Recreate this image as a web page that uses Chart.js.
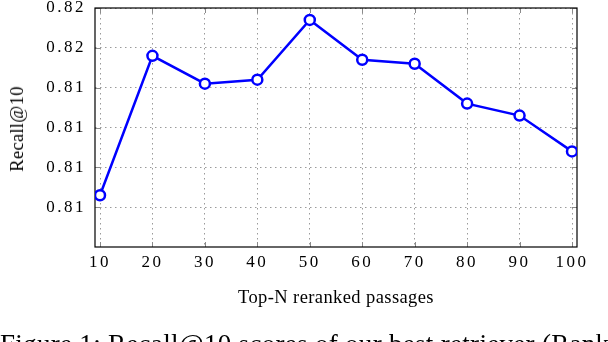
<!DOCTYPE html>
<html>
<head>
<meta charset="utf-8">
<script src="https://cdn.jsdelivr.net/npm/chart.js@4"></script>
<style>
  html, body { margin: 0; padding: 0; background: #fff; overflow: hidden; }
  #wrap { position: relative; width: 608px; height: 342px; overflow: hidden; }
  #wrap canvas { position: absolute; left: 0; top: 0; }
  .txt { position: absolute; font-family: 'Liberation Serif', serif; color: #000; white-space: nowrap; }
  #xtitle { left: 95px; width: 482px; top: 288px; text-align: center; font-size: 18.5px; line-height: 18px; letter-spacing: 0.4px; }
  #ytitle { left: 17px; top: 129px; font-size: 18.5px; line-height: 18px; letter-spacing: 0.3px; transform: translate(-50%, -50%) rotate(-90deg); }
  #caption { left: 0px; top: 331px; font-size: 27px; line-height: 27px; letter-spacing: 0.3px; }
</style>
</head>
<body>
<div id="wrap">
  <canvas id="c" width="608" height="342"></canvas>
  <div class="txt" id="xtitle">Top-N reranked passages</div>
  <div class="txt" id="ytitle">Recall@10</div>
  <div class="txt" id="caption">Figure 1: Recall@10 scores of our best retriever (Rank</div>
</div>
<script>
// ---- data ----
const topN = [10, 20, 30, 40, 50, 60, 70, 80, 90, 100];
const recall = [0.8113, 0.8148, 0.8141, 0.8142, 0.8157, 0.8147, 0.8146, 0.8136, 0.8133, 0.8124];
const xTicks = [10, 20, 30, 40, 50, 60, 70, 80, 90, 100];
const yTicks = [0.811, 0.812, 0.813, 0.814, 0.815, 0.816];
const yTickLabels = ['0.81', '0.81', '0.81', '0.81', '0.82', '0.82'];

const framePlugin = {
  id: 'frame',
  beforeDraw(chart) {
    chart.ctx.letterSpacing = '2.5px';
  },
  beforeDatasetsDraw(chart) {
    const { ctx, chartArea: a, scales } = chart;
    ctx.save();
    ctx.letterSpacing = '0px';
    ctx.strokeStyle = '#8a8a8a';
    ctx.lineWidth = 1;
    ctx.beginPath();
    xTicks.forEach(v => {
      const x = Math.round(scales.x.getPixelForValue(v)) + 0.5;
      ctx.moveTo(x, a.bottom); ctx.lineTo(x, a.bottom - 5);
      ctx.moveTo(x, a.top); ctx.lineTo(x, a.top + 5);
    });
    yTicks.forEach(v => {
      const y = Math.round(scales.y.getPixelForValue(v)) + 0.5;
      ctx.moveTo(a.left, y); ctx.lineTo(a.left + 5, y);
      ctx.moveTo(a.right, y); ctx.lineTo(a.right - 5, y);
    });
    ctx.stroke();
    ctx.strokeStyle = '#000';
    ctx.lineWidth = 1.2;
    ctx.strokeRect(a.left, a.top, a.right - a.left, a.bottom - a.top);
    ctx.restore();
  }
};

new Chart(document.getElementById('c'), {
  type: 'line',
  data: {
    datasets: [{
      data: topN.map((x, i) => ({ x: x, y: recall[i] })),
      borderColor: '#0000ff',
      borderWidth: 2.5,
      backgroundColor: '#ffffff',
      pointBackgroundColor: '#ffffff',
      pointBorderColor: '#0000ff',
      pointBorderWidth: 2.5,
      pointRadius: 5,
      tension: 0,
      fill: false
    }]
  },
  options: {
    responsive: false,
    animation: false,
    events: [],
    layout: { padding: { left: 0, top: 8, right: 31, bottom: 0 } },
    plugins: { legend: { display: false }, tooltip: { enabled: false } },
    scales: {
      x: {
        type: 'linear',
        min: 9.0466,
        max: 100.953,
        afterBuildTicks: s => { s.ticks = xTicks.map(v => ({ value: v })); },
        afterFit: s => { s.height = 95; s.paddingLeft = 0; s.paddingRight = 0; },
        grid: { color: '#9a9a9a', lineWidth: 1, drawTicks: false },
        border: { display: false, dash: [1.5, 3.5] },
        ticks: {
          autoSkip: false, maxRotation: 0, padding: 5,
          color: '#000',
          font: { family: 'Liberation Serif', size: 17 },
          callback: (v, i) => String(xTicks[i])
        }
      },
      y: {
        type: 'linear',
        min: 0.810,
        max: 0.816,
        afterBuildTicks: s => { s.ticks = yTicks.map(v => ({ value: v })); },
        afterFit: s => { s.width = 95; s.paddingTop = 0; s.paddingBottom = 0; },
        grid: { color: '#9a9a9a', lineWidth: 1, drawTicks: false },
        border: { display: false, dash: [1.5, 3.5] },
        ticks: {
          padding: 9,
          color: '#000',
          font: { family: 'Liberation Serif', size: 17 },
          callback: (v, i) => yTickLabels[i]
        }
      }
    }
  },
  plugins: [framePlugin]
});
</script>
</body>
</html>
